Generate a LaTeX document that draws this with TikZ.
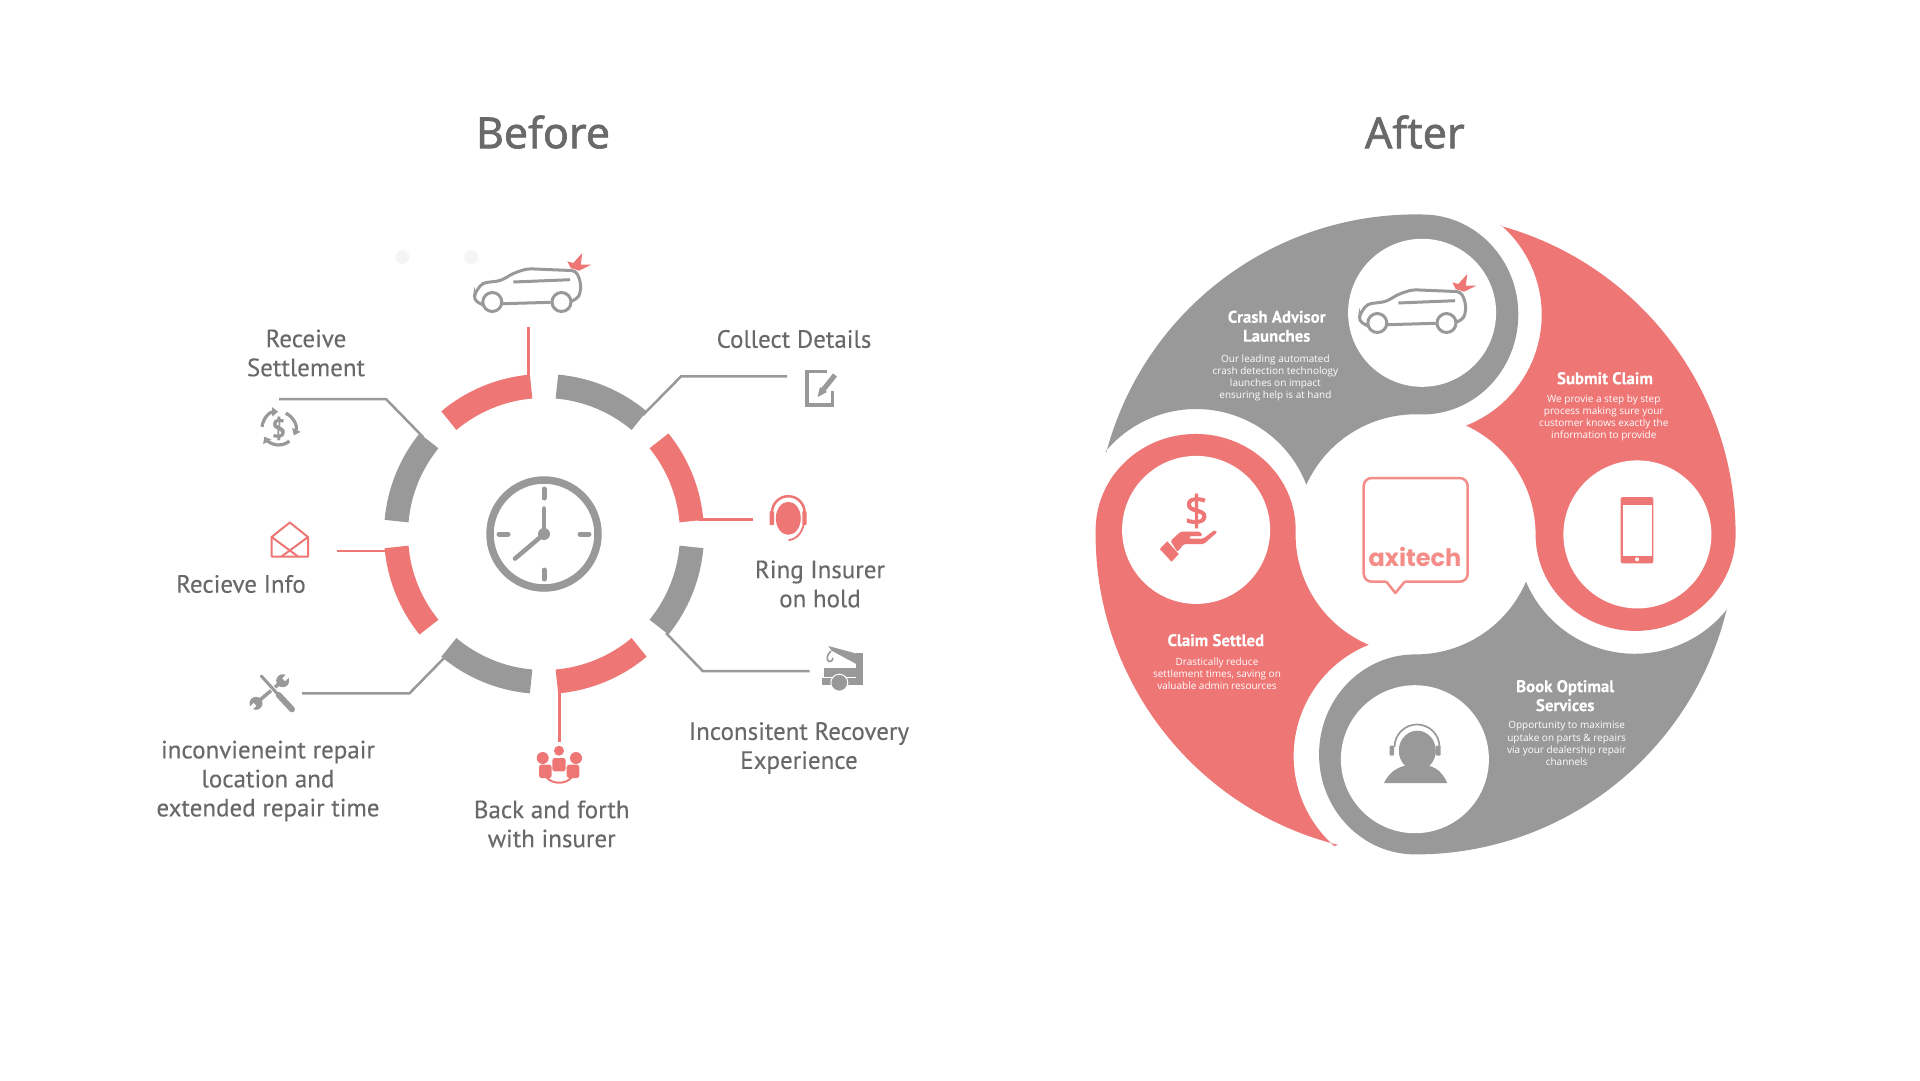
\documentclass[tikz,border=0pt]{standalone}
\usepackage{fontspec}
\setmainfont[FakeBold=0.2]{PT Sans}
\newfontfamily\titlefont[FakeBold=1.4]{Noto Sans}
\newfontfamily\bodyfont{Open Sans}
\newfontfamily\logofont[BoldFont={Poppins Bold}]{Poppins}
\usetikzlibrary{arrows.meta}
\definecolor{axired}{HTML}{EE7776}
\definecolor{axigrey}{HTML}{999999}
\definecolor{labelgrey}{HTML}{696969}
\definecolor{logored}{HTML}{F48C88}
\tikzset{
  titletext/.style={text=labelgrey,font=\titlefont\fontsize{43}{50}\selectfont},
  beforetext/.style={text=labelgrey,align=center,font=\fontsize{25}{29}\selectfont},
  headtext/.style={text=white,align=center,font=\bfseries\fontsize{16.8}{19}\selectfont},
  bodytext/.style={text=white,align=center,font=\bodyfont\fontsize{10}{12.1}\selectfont},
  redseg/.style={draw=axired,line width=24pt},
  greyseg/.style={draw=axigrey,line width=24pt},
  redlink/.style={draw=axired,line width=2.5pt},
  greylink/.style={draw=axigrey,line width=2.5pt},
  carpic/.pic={
    \draw[axigrey,line width=3pt,rounded corners=4pt] (8.3,8.3) -- (0,13) -- (1,20) -- (8.3,30) -- (26.7,32.3) -- (40,40) -- (53.3,44.3) -- (101.7,42.3) -- (106.5,32) -- (106.5,20) -- (103,14) -- (96.7,11.7);
    \draw[axigrey,line width=3pt] (28.3,9.3) -- (76.7,10.7);
    \draw[axigrey,line width=3pt] (39.3,31) -- (96,33.3);
    \draw[axigrey,line width=3pt,fill=white] (18.3,11) circle (9.5);
    \draw[axigrey,line width=3pt,fill=white] (87.5,11) circle (9.5);
    \fill[axired] (93.3,51.7) -- (99.3,50) -- (108.3,60) -- (106.7,48.3) -- (117.3,48.3) -- (105,42.3) -- (96.7,45) -- cycle;
  }
}
\begin{document}
\begin{tikzpicture}[x=1pt,y=1pt,yscale=-1]
\useasboundingbox (2,1) rectangle (1922,1081);
\fill[white] (2,1) rectangle (1922,1081);
\node[titletext] (beforetitle) at (545,133) {Before};
\node[titletext] (aftertitle) at (1416.8,133) {After};
\fill[black!4] (404.3,258) circle (7);
\fill[black!4] (473.2,258) circle (7);

\begin{scope}[shift={(546,535)},yscale=-1]
\draw[redseg] (130:148) arc[start angle=130,end angle=95,radius=148];
\draw[greyseg] (85:148) arc[start angle=85,end angle=50,radius=148];
\draw[redseg] (39:148) arc[start angle=39,end angle=5,radius=148];
\draw[greyseg] (-5:148) arc[start angle=-5,end angle=-39,radius=148];
\draw[redseg] (-50:148) arc[start angle=-50,end angle=-85,radius=148];
\draw[greyseg] (-95:148) arc[start angle=-95,end angle=-130,radius=148];
\draw[redseg] (-141:148) arc[start angle=-141,end angle=-175,radius=148];
\draw[greyseg] (175:148) arc[start angle=175,end angle=141,radius=148];
\end{scope}

\coordinate (crashend) at (530.5,328);
\coordinate (crashring) at (530.5,380);
\coordinate (collectend) at (789,377.4);
\coordinate (collectbend) at (683,377.4);
\coordinate (collectring) at (645,416);
\coordinate (ringend) at (755,520.4);
\coordinate (ringring) at (700,520.4);
\coordinate (recoveryend) at (811.7,672);
\coordinate (recoverybend) at (704.7,672);
\coordinate (recoveryring) at (668,634);
\coordinate (backend) at (561.4,743);
\coordinate (backring) at (561.4,688);
\coordinate (repairend) at (304,694.3);
\coordinate (repairbend) at (411.5,694.3);
\coordinate (repairring) at (448,657);
\coordinate (infoend) at (338.7,551.8);
\coordinate (inforing) at (392,551.8);
\coordinate (settleend) at (281,400);
\coordinate (settlebend) at (388,400);
\coordinate (settlering) at (425,438);
\draw[redlink] (crashend) -- (crashring);
\draw[greylink] (collectend) -- (collectbend) -- (collectring);
\draw[redlink] (ringend) -- (ringring);
\draw[greylink] (recoveryend) -- (recoverybend) -- (recoveryring);
\draw[redlink] (backend) -- (backring);
\draw[greylink] (repairend) -- (repairbend) -- (repairring);
\draw[redlink] (infoend) -- (inforing);
\draw[greylink] (settleend) -- (settlebend) -- (settlering);

\draw[axigrey,line width=7.5pt] (546,535) circle (54);
\foreach \tickangle in {0,90,180,270}
  \draw[axigrey,line width=5pt,line cap=round] (546,535) ++(\tickangle:36) -- ++(\tickangle:9);
\draw[axigrey,line width=4.5pt,line cap=round] (546,535) -- (546,509.5);
\draw[axigrey,line width=4.5pt,line cap=round] (546,535) -- (517,559.6);
\fill[axigrey] (546,535) circle (6);

\node[beforetext] (settlelabel) at (308,354) {Receive\\Settlement};
\node[beforetext] (collectlabel) at (796,340) {Collect Details};
\node[beforetext] (ringlabel) at (822,585) {Ring Insurer\\on hold};
\node[beforetext] (recoverylabel) at (801,749) {Inconsitent Recovery\\Experience};
\node[beforetext] (backlabel) at (553.7,825) {Back and forth\\with insurer};
\node[beforetext] (repairlabel) at (270,782) {inconvieneint repair\\location and\\extended repair time};
\node[beforetext] (infolabel) at (243,585) {Recieve Info};

\pic at (476,314) {carpic};

\draw[axigrey,line width=3.5pt] (829,372.5) -- (809,372.5) -- (809,406) -- (834.5,406) -- (834.5,392);
\draw[axigrey,line width=5pt] (837,376) -- (825,391);
\fill[axigrey] (819.5,398) -- (822,388) -- (829,393) -- cycle;

\begin{scope}[shift={(1,0)}]
\fill[axired] (789.3,519.3) ellipse (12.5 and 16.5);
\draw[axired,line width=2.5pt] (773,513.5) arc[start angle=180,end angle=360,radius=16.3];
\fill[axired,rounded corners=1pt] (770.5,512) rectangle (775,526);
\fill[axired,rounded corners=1pt] (803.3,512) rectangle (807.5,526);
\draw[axired,line width=1.8pt,line cap=round] (805,523) .. controls (804,533) and (798,540) .. (790,541);
\end{scope}

\draw[axired,line width=2pt,line join=round] (273.6,538) -- (291.8,523.5) -- (310,538) -- (310,557.5) -- (273.6,557.5) -- cycle;
\draw[axired,line width=2pt] (273.6,538) -- (300,557.5);
\draw[axired,line width=2pt] (310,538) -- (283.6,557.5);

\begin{scope}[shift={(2,1)}]
\fill[axigrey] (828.3,646) -- (858,654) -- (856.3,664) -- (831.7,650.7) -- cycle;
\fill[axigrey] (856.3,653.3) rectangle (863,678.3);
\fill[axigrey] (824.3,668.3) rectangle (863,676.7);
\fill[axigrey] (821.7,678.3) rectangle (863,685);
\draw[white,line width=1pt,fill=axigrey] (839.3,682.7) circle (8.5);
\draw[axigrey,line width=1.6pt] (831,651) .. controls (827,654) and (826,660) .. (829,661.5) .. controls (831,662.5) and (833,660) .. (833,658);
\end{scope}

\begin{scope}[shift={(4,1)}]
\draw[axigrey,line width=3.5pt] (280.7,680.7) -- (254,703.3);
\fill[axigrey] (280.7,680.7) circle (6.5);
\fill[axigrey] (254,703.3) circle (6.5);
\draw[white,line width=4pt] (281.7,679.7) -- (290,671.5);
\draw[white,line width=4pt] (253,704.3) -- (245,712.5);
\draw[white,line width=5pt] (259.3,676) -- (275,693.3);
\draw[axigrey,line width=3pt,line cap=round] (259.3,676) -- (275,693.3);
\draw[white,line width=8pt] (276.7,695) -- (290,709.3);
\draw[axigrey,line width=6pt,line cap=round] (276.7,695) -- (290,709.3);
\end{scope}

\begin{scope}[shift={(2,0)}]
\fill[axired] (559,751.7) circle (5);
\fill[axired] (542.7,759) circle (6);
\fill[axired] (576,759) circle (6);
\fill[axired,rounded corners=2.5pt] (552.3,759) rectangle (565.7,772.3);
\fill[axired,rounded corners=2.5pt] (539,765.7) rectangle (551.7,779);
\fill[axired,rounded corners=2.5pt] (566.7,765.7) rectangle (579.3,779);
\draw[axired,line width=2pt] (546.7,778.3) .. controls (552,785.5) and (566,785.5) .. (571.7,778.3);
\end{scope}

\draw[axigrey,line width=3.2pt,-{Triangle[length=6pt,width=9pt]}] (280.7,429.3) ++(185:16.7) arc[start angle=185,end angle=268,radius=16.7];
\draw[axigrey,line width=3.2pt,-{Triangle[length=6pt,width=9pt]}] (280.7,429.3) ++(295:16.7) arc[start angle=295,end angle=385,radius=16.7];
\draw[axigrey,line width=3.2pt,-{Triangle[length=6pt,width=9pt]}] (280.7,429.3) ++(50:16.7) arc[start angle=50,end angle=150,radius=16.7];
\node[text=axigrey,font=\bfseries\fontsize{26}{26}\selectfont] (settlemoney) at (280.7,429.3) {\$};

\begin{scope}[shift={(1417.6,535.4)},yscale=-1]
\fill[axigrey] (165.4:320) arc[start angle=165.4,end angle=88.8,radius=320] arc[start angle=90,end angle=-90,x radius=96,y radius=100] arc[start angle=86.8,end angle=155.6,radius=120] arc[start angle=21,end angle=140,radius=118] -- cycle;
\fill[axired] (74.8:320) arc[start angle=74.8,end angle=0,radius=320] arc[start angle=0,end angle=-180,x radius=100,y radius=96.5] arc[start angle=0,end angle=65.1,radius=120] arc[start angle=-68.6,end angle=48.6,radius=119] -- cycle;
\fill[axigrey] (-13.5:320) arc[start angle=-13.5,end angle=-90.1,radius=320] arc[start angle=-90,end angle=-270,x radius=96,y radius=100] arc[start angle=-90.3,end angle=-23.2,radius=120] arc[start angle=-157.1,end angle=-39.7,radius=118] -- cycle;
\fill[axired] (256:320) arc[start angle=256,end angle=179.2,radius=320] arc[start angle=180,end angle=0,x radius=100,y radius=96] arc[start angle=177.9,end angle=247,radius=120] arc[start angle=112,end angle=228.6,radius=120] -- cycle;
\fill[white] (6.5,221.6) circle (74);
\fill[white] (221.8,0) circle (74);
\fill[white] (-0.7,-224.8) circle (74);
\fill[white] (-219.5,4.5) circle (74);
\end{scope}

\pic at (1361,335) {carpic};

\fill[axired,rounded corners=2pt] (1622.7,498) rectangle (1655.3,564.3);
\fill[white] (1624.7,505.7) rectangle (1653.7,556.7);
\fill[white] (1639,560.3) circle (2);

\begin{scope}[shift={(1,0)}]
\draw[axigrey,line width=1.7pt] (1395.5,748) arc[start angle=180,end angle=360,radius=22.5];
\fill[axigrey] (1418.3,751.7) ellipse (18.5 and 20);
\fill[axigrey,rounded corners=1pt] (1390.7,746.7) rectangle (1395,756.7);
\fill[axigrey,rounded corners=1pt] (1436.7,746.7) rectangle (1441.7,756.7);
\draw[white,line width=1pt] (1437.5,758) .. controls (1436,764) and (1433,767) .. (1430,768);
\fill[axigrey] (1385,784) .. controls (1392,770) and (1402,766) .. (1418,765) .. controls (1434,766) and (1442,770) .. (1448.3,784) -- cycle;
\end{scope}

\node[text=axired,font=\titlefont\fontsize{42}{42}\selectfont] (moneysign) at (1198.5,512) {\$};
\begin{scope}[shift={(2.5,0)}]
\fill[axired,rounded corners=1.5pt] (1170,542) -- (1180,532.7) -- (1200,532.7) -- (1202,537) -- (1188.3,537.3) -- (1188.3,539.5) -- (1203,539.5) -- (1214,531) -- (1217,533) -- (1203.3,545) -- (1183.3,545) -- (1177,553) -- cycle;
\fill[axired] (1159.3,550) -- (1166.7,542.3) -- (1178.3,555) -- (1171,562.7) -- cycle;
\end{scope}

\draw[logored,line width=2.5pt,fill=white,line join=round] (1388.4,582.7) -- (1397.4,594) -- (1406.7,582.7);
\draw[logored,line width=2.5pt,rounded corners=8pt] (1388.4,582.7) -- (1365.7,582.7) -- (1365.7,479) -- (1469.7,479) -- (1469.7,582.7) -- (1406.7,582.7);
\node[text=logored,font=\logofont\bfseries\fontsize{24}{24}\selectfont] (logotext) at (1417,557.7) {axitech};

\node[headtext] (crashhead) at (1278.7,327.3) {Crash Advisor\\Launches};
\node[bodytext] (crashbody) at (1277.4,378.6) {Our leading automated\\crash detection technology\\launches on impact\\ensuring help is at hand};
\node[headtext] (submithead) at (1607,379.3) {Submit Claim};
\node[bodytext] (submitbody) at (1605.8,418.8) {We provie a step by step\\process making sure your\\customer knows exactly the\\information to provide};
\node[headtext] (settledhead) at (1217.8,641.2) {Claim Settled};
\node[bodytext] (settledbody) at (1219,675) {Drastically reduce\\settlement times, saving on\\valuable admin resources};
\node[headtext] (bookhead) at (1567.2,696.7) {Book Optimal\\Services};
\node[bodytext] (bookbody) at (1568.6,744.5) {Opportunity to maximise\\uptake on parts \& repairs\\via your dealership repair\\channels};
\end{tikzpicture}
\end{document}
